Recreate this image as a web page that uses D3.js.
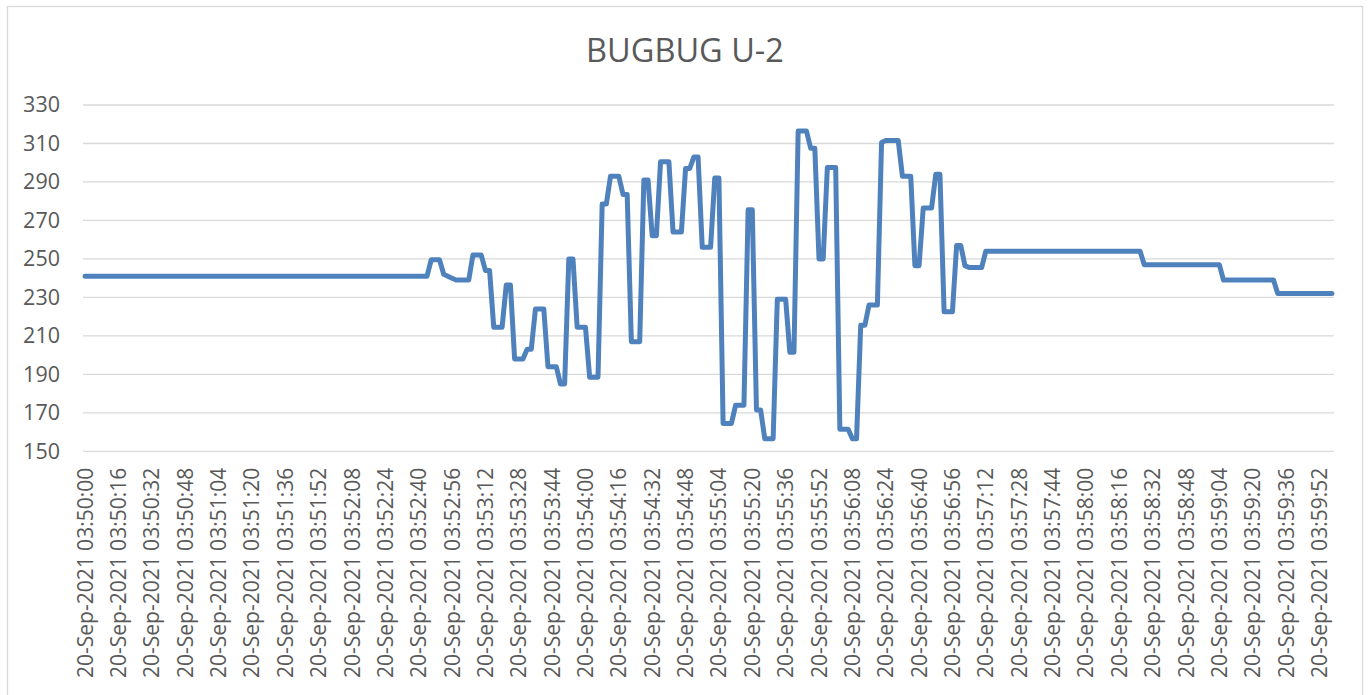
<!DOCTYPE html>
<html>
<head>
<meta charset="utf-8">
<script src="https://cdn.jsdelivr.net/npm/d3@7"></script>
<style>
  body { margin: 0; background: #fff; }
  svg { display: block; font-family: "Open Sans", "Noto Sans", sans-serif; }
</style>
</head>
<body>
<svg id="chart" width="1368" height="695"></svg>
<script>
// chart title
const title = 'BUGBUG U-2';

// one reading every 2 seconds, starting 20-Sep-2021 03:50:00
const startTime = new Date(2021, 8, 20, 3, 50, 0);
const stepSeconds = 2;

// readings
const values = [
  241, 241, 241, 241, 241, 241, 241, 241, 241, 241, 241, 241, 241, 241, 241, 241, 241, 241, 241, 241,
  241, 241, 241, 241, 241, 241, 241, 241, 241, 241, 241, 241, 241, 241, 241, 241, 241, 241, 241, 241,
  241, 241, 241, 241, 241, 241, 241, 241, 241, 241, 241, 241, 241, 241, 241, 241, 241, 241, 241, 241,
  241, 241, 241, 241, 241, 241, 241, 241, 241, 241, 241, 241, 241, 241, 241, 241, 241, 241, 241, 241,
  241, 241, 241, 249.5, 249.5, 249.5, 242, 241, 240, 239, 239, 239, 239, 252, 252, 252, 244, 244, 214.5, 214.5,
  214.5, 236.5, 236.5, 198, 198, 198, 203, 203, 224, 224, 224, 194, 194, 194, 185, 185, 250, 250, 214.5, 214.5,
  214.5, 188.5, 188.5, 188.5, 278.5, 278.5, 293, 293, 293, 283.5, 283.5, 207, 207, 207, 291, 291, 262, 262, 300.5, 300.5,
  300.5, 264, 264, 264, 297, 297, 303, 303, 256, 256, 256, 292, 292, 164.5, 164.5, 164.5, 174, 174, 174, 275.5,
  275.5, 171.5, 171.5, 156.5, 156.5, 156.5, 229, 229, 229, 201.5, 201.5, 316.5, 316.5, 316.5, 307.5, 307.5, 250, 250, 297.5, 297.5,
  297.5, 161.5, 161.5, 161.5, 156.5, 156.5, 215.5, 215.5, 226, 226, 226, 310.5, 311.5, 311.5, 311.5, 311.5, 293, 293, 293, 246.5,
  246.5, 276.5, 276.5, 276.5, 294, 294, 222.5, 222.5, 222.5, 257, 257, 246.5, 245.5, 245.5, 245.5, 245.5, 254, 254, 254, 254,
  254, 254, 254, 254, 254, 254, 254, 254, 254, 254, 254, 254, 254, 254, 254, 254, 254, 254, 254, 254,
  254, 254, 254, 254, 254, 254, 254, 254, 254, 254, 254, 254, 254, 254, 247, 247, 247, 247, 247, 247,
  247, 247, 247, 247, 247, 247, 247, 247, 247, 247, 247, 247, 247, 239, 239, 239, 239, 239, 239, 239,
  239, 239, 239, 239, 239, 239, 232, 232, 232, 232, 232, 232, 232, 232, 232, 232, 232, 232, 232, 232
];

// labels shown on the category axis (every 8th reading)
const tickLabels = [
  '20-Sep-2021 03:50:00', '20-Sep-2021 03:50:16', '20-Sep-2021 03:50:32', '20-Sep-2021 03:50:48',
  '20-Sep-2021 03:51:04', '20-Sep-2021 03:51:20', '20-Sep-2021 03:51:36', '20-Sep-2021 03:51:52',
  '20-Sep-2021 03:52:08', '20-Sep-2021 03:52:24', '20-Sep-2021 03:52:40', '20-Sep-2021 03:52:56',
  '20-Sep-2021 03:53:12', '20-Sep-2021 03:53:28', '20-Sep-2021 03:53:44', '20-Sep-2021 03:54:00',
  '20-Sep-2021 03:54:16', '20-Sep-2021 03:54:32', '20-Sep-2021 03:54:48', '20-Sep-2021 03:55:04',
  '20-Sep-2021 03:55:20', '20-Sep-2021 03:55:36', '20-Sep-2021 03:55:52', '20-Sep-2021 03:56:08',
  '20-Sep-2021 03:56:24', '20-Sep-2021 03:56:40', '20-Sep-2021 03:56:56', '20-Sep-2021 03:57:12',
  '20-Sep-2021 03:57:28', '20-Sep-2021 03:57:44', '20-Sep-2021 03:58:00', '20-Sep-2021 03:58:16',
  '20-Sep-2021 03:58:32', '20-Sep-2021 03:58:48', '20-Sep-2021 03:59:04', '20-Sep-2021 03:59:20',
  '20-Sep-2021 03:59:36', '20-Sep-2021 03:59:52'
];

// value axis ticks
const yTicks = [150, 170, 190, 210, 230, 250, 270, 290, 310, 330];

(function () {
  const svg = d3.select('#chart');
  const textColor = '#595959';
  const gridColor = '#d9d9d9';

  // category names built from the timestamps
  const fmt = d3.timeFormat('%d-%b-%Y %H:%M:%S');
  const categories = values.map((v, i) => fmt(new Date(+startTime + i * stepSeconds * 1000)));
  const data = values.map((v, i) => ({ cat: categories[i], v: v }));

  // plot area
  const left = 83, right = 1334, top = 105, bottom = 451.3;

  const x = d3.scaleBand().domain(categories).range([left, right]);
  const y = d3.scaleLinear().domain([150, 330]).range([bottom, top]);
  const cx = (c) => x(c) + x.bandwidth() / 2;

  // white background and chart border
  svg.append('rect')
    .attr('width', 1368).attr('height', 695)
    .attr('fill', '#fff');
  svg.append('rect')
    .attr('x', 7.5).attr('y', 6.5)
    .attr('width', 1355).attr('height', 720)
    .attr('fill', 'none')
    .attr('stroke', gridColor)
    .attr('stroke-width', 1.3);

  // title
  svg.append('text')
    .attr('x', 685).attr('y', 61.5)
    .attr('text-anchor', 'middle')
    .attr('fill', textColor)
    .style('font-size', '32.5px')
    .text(title);

  // horizontal gridlines
  svg.append('g')
    .selectAll('line').data(yTicks).enter().append('line')
    .attr('x1', left).attr('x2', right)
    .attr('y1', (d) => y(d)).attr('y2', (d) => y(d))
    .attr('stroke', gridColor)
    .attr('stroke-width', 1.3);

  // value axis
  const yAxis = svg.append('g')
    .attr('transform', `translate(${left},0)`)
    .call(d3.axisLeft(y).tickValues(yTicks).tickSize(0).tickPadding(23));
  yAxis.select('.domain').remove();
  yAxis.selectAll('text')
    .attr('fill', textColor)
    .style('font-size', '21.5px')
    .style('font-family', '"Open Sans", sans-serif');

  // category axis, labels turned upright
  const xAxis = svg.append('g')
    .attr('transform', `translate(0,${bottom})`)
    .call(d3.axisBottom(x).tickValues(tickLabels).tickSize(0));
  xAxis.select('.domain').remove();
  xAxis.selectAll('text')
    .attr('transform', 'rotate(-90)')
    .attr('text-anchor', 'end')
    .attr('x', -16.5)
    .attr('y', 0)
    .attr('dy', '0.36em')
    .attr('fill', textColor)
    .style('font-size', '21px')
    .style('font-family', '"Open Sans", sans-serif');

  // the series line
  const line = d3.line()
    .x((d) => cx(d.cat))
    .y((d) => y(d.v));

  svg.append('path')
    .datum(data)
    .attr('d', line)
    .attr('fill', 'none')
    .attr('stroke', '#4f81bd')
    .attr('stroke-width', 5)
    .attr('stroke-linejoin', 'round')
    .attr('stroke-linecap', 'round');
})();
</script>
</body>
</html>
